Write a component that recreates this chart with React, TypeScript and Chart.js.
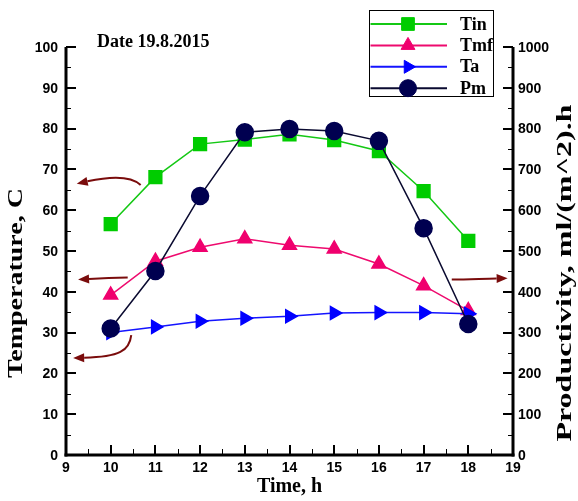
import React, { useEffect, useRef } from "react";
import { Chart, registerables } from "chart.js";
import { drawPoint } from "chart.js/helpers";

Chart.register(...registerables);

// Hour of day for each measurement
const hours = [10, 11, 12, 13, 14, 15, 16, 17, 18];
// Temperatures, C
const tin = [56.6, 68.1, 76.2, 77.3, 78.6, 77.2, 74.5, 64.7, 52.5];
const tmf = [39.2, 47.5, 50.9, 53.0, 51.4, 50.5, 46.8, 41.5, 35.4];
const ta = [30.0, 31.4, 32.8, 33.5, 34.0, 34.8, 34.9, 34.9, 34.6];
// Productivity, ml/(m^2).h
const pm = [310, 451, 635, 791, 799, 794, 770, 556, 321];

// Axis ticks
const xTicks = [9, 10, 11, 12, 13, 14, 15, 16, 17, 18, 19];
const tempTicks = [0, 10, 20, 30, 40, 50, 60, 70, 80, 90, 100];
const prodTicks = [0, 100, 200, 300, 400, 500, 600, 700, 800, 900, 1000];

const seriesNames = ["Tin", "Tmf", "Ta", "Pm"];
const dateLabel = "Date 19.8.2015";
const xTitle = "Time, h";
const yTitle = "Temperature, C";
const y1Title = "Productivity, ml/(m^2).h";

const SERIF = '"Liberation Serif", "Times New Roman", serif';
const SANS = '"Liberation Sans", Arial, sans-serif';
const ARROW_COLOR = "#7a0c0c";

// Hint arrows (time, temperature) pointing each curve group to its axis:
// start, two bezier control points, tip
type P = [number, number];
const arrowsToLeft: P[][] = [
  [[10.67, 66.2], [10.45, 68.4], [10.03, 68.4], [9.24, 66.5]],
  [[10.38, 43.5], [10.0, 43.4], [9.8, 43.3], [9.27, 43.0]],
  [[10.46, 29.4], [10.42, 25.6], [10.2, 24.0], [9.16, 23.8]],
];
const arrowsToRight: P[][] = [
  [[17.63, 43.0], [18.0, 43.0], [18.3, 43.2], [18.88, 43.3]],
];

const pts = (vals: number[]) => hours.map((h, i) => ({ x: h, y: vals[i] }));

function drawArrow(ctx: CanvasRenderingContext2D, p: P[]) {
  const [p0, c1, c2, tip] = p;
  const ang = Math.atan2(tip[1] - c2[1], tip[0] - c2[0]);
  const hl = 11;
  const hw = 4.5;
  const bx = tip[0] - hl * Math.cos(ang);
  const by = tip[1] - hl * Math.sin(ang);
  ctx.beginPath();
  ctx.moveTo(p0[0], p0[1]);
  ctx.bezierCurveTo(c1[0], c1[1], c2[0], c2[1], bx, by);
  ctx.stroke();
  ctx.beginPath();
  ctx.moveTo(tip[0], tip[1]);
  ctx.lineTo(bx + hw * Math.sin(ang), by - hw * Math.cos(ang));
  ctx.lineTo(bx - hw * Math.sin(ang), by + hw * Math.cos(ang));
  ctx.closePath();
  ctx.fill();
}

// Vertical axis title, read bottom to top, stretched along its baseline
function verticalTitle(ctx: CanvasRenderingContext2D, text: string, x: number, y: number, stretch: number) {
  ctx.save();
  ctx.translate(x, y);
  ctx.rotate(-Math.PI / 2);
  ctx.scale(stretch, 1);
  ctx.fillText(text, 0, 0);
  ctx.restore();
}

const framePlugin = {
  id: "frame",
  afterDraw(chart: any) {
    const ctx: CanvasRenderingContext2D = chart.ctx;
    const { left: L, right: R, top: T, bottom: B } = chart.chartArea;
    const xs = chart.scales.x;
    const ys = chart.scales.y;
    const y1 = chart.scales.y1;
    ctx.save();
    ctx.strokeStyle = "#000";
    ctx.fillStyle = "#000";
    ctx.lineCap = "butt";

    const seg = (ax: number, ay: number, bx: number, by: number, w: number) => {
      ctx.lineWidth = w;
      ctx.beginPath();
      ctx.moveTo(ax, ay);
      ctx.lineTo(bx, by);
      ctx.stroke();
    };

    // inward ticks, major and minor
    tempTicks.forEach((v, i) => {
      const y = Math.round(ys.getPixelForValue(v));
      seg(L, y, L + 10, y, 2);
      if (i < tempTicks.length - 1) {
        const ym = Math.round(ys.getPixelForValue((v + tempTicks[i + 1]) / 2)) + 0.5;
        seg(L, ym, L + 5, ym, 1);
      }
    });
    prodTicks.forEach((v, i) => {
      const y = Math.round(y1.getPixelForValue(v));
      seg(R, y, R - 10, y, 2);
      if (i < prodTicks.length - 1) {
        const ym = Math.round(y1.getPixelForValue((v + prodTicks[i + 1]) / 2)) + 0.5;
        seg(R, ym, R - 5, ym, 1);
      }
    });
    xTicks.forEach((v, i) => {
      const x = Math.round(xs.getPixelForValue(v));
      seg(x, B, x, B - 10, 2);
      if (i < xTicks.length - 1) {
        const xm = Math.round(xs.getPixelForValue((v + xTicks[i + 1]) / 2)) + 0.5;
        seg(xm, B, xm, B - 6, 1);
      }
    });

    // axis lines
    seg(L, T, L, B + 1.5, 3);
    seg(R, T, R, B + 1.5, 3);
    seg(L - 1.5, B, R + 1.5, B, 3);

    // tick labels
    ctx.font = `bold 14px ${SANS}`;
    ctx.textBaseline = "middle";
    ctx.textAlign = "right";
    tempTicks.forEach((v) => ctx.fillText(String(v), L - 8, ys.getPixelForValue(v) + 1));
    ctx.textAlign = "left";
    prodTicks.forEach((v) => ctx.fillText(String(v), R + 5, y1.getPixelForValue(v) + 1));
    ctx.textAlign = "center";
    xTicks.forEach((v) => ctx.fillText(String(v), xs.getPixelForValue(v), B + 13));

    // axis titles
    ctx.font = `bold 20px ${SERIF}`;
    ctx.textAlign = "center";
    ctx.textBaseline = "alphabetic";
    ctx.fillText(xTitle, (L + R) / 2, B + 37);
    verticalTitle(ctx, yTitle, 22, 283, 1.4);
    verticalTitle(ctx, y1Title, 571, 273, 1.6);

    // date caption
    ctx.font = `bold 18px ${SERIF}`;
    ctx.textAlign = "left";
    ctx.fillText(dateLabel, L + 31, T);

    // arrows
    ctx.strokeStyle = ARROW_COLOR;
    ctx.fillStyle = ARROW_COLOR;
    ctx.lineWidth = 2;
    const toPx = (p: P): P => [xs.getPixelForValue(p[0]), ys.getPixelForValue(p[1])];
    [...arrowsToLeft, ...arrowsToRight].forEach((a) => drawArrow(ctx, a.map(toPx)));

    // legend box
    const bx = 369.5, by = 10.5, bw = 124, bh = 86;
    ctx.fillStyle = "#fff";
    ctx.fillRect(bx, by, bw, bh);
    ctx.strokeStyle = "#000";
    ctx.lineWidth = 1;
    ctx.strokeRect(bx, by, bw, bh);
    chart.data.datasets.forEach((ds: any, i: number) => {
      const ry = 24 + i * 21.4;
      ctx.strokeStyle = ds.borderColor;
      ctx.lineWidth = 2;
      ctx.beginPath();
      ctx.moveTo(bx + 1, ry);
      ctx.lineTo(447, ry);
      ctx.stroke();
      ctx.fillStyle = ds.pointBackgroundColor;
      ctx.strokeStyle = ds.pointBorderColor;
      ctx.lineWidth = 1;
      drawPoint(ctx, {
        pointStyle: ds.pointStyle,
        radius: ds.pointRadius,
        rotation: ds.pointRotation || 0,
        borderWidth: 1,
      } as any, 408, ry);
      ctx.fillStyle = "#000";
      ctx.font = `bold 18px ${SERIF}`;
      ctx.textAlign = "left";
      ctx.textBaseline = "middle";
      ctx.fillText(ds.label, 460, ry + 1);
    });

    ctx.restore();
  },
};

export default function App() {
  const canvasRef = useRef<HTMLCanvasElement | null>(null);

  useEffect(() => {
    const canvas = canvasRef.current;
    if (!canvas) return;
    const chart = new Chart(canvas, {
      type: "line",
      data: {
        datasets: [
          {
            label: seriesNames[0],
            data: pts(tin),
            yAxisID: "y",
            borderColor: "#14c814",
            backgroundColor: "#00cc00",
            pointBackgroundColor: "#00cc00",
            pointBorderColor: "#00cc00",
            pointStyle: "rect",
            pointRadius: 9,
            borderWidth: 1.5,
            order: 3,
          },
          {
            label: seriesNames[1],
            data: pts(tmf),
            yAxisID: "y",
            borderColor: "#ee0a6e",
            backgroundColor: "#f0006e",
            pointBackgroundColor: "#f0006e",
            pointBorderColor: "#f0006e",
            pointStyle: "triangle",
            pointRadius: 8,
            borderWidth: 1.5,
            order: 2,
          },
          {
            label: seriesNames[2],
            data: pts(ta),
            yAxisID: "y",
            borderColor: "#1414ff",
            backgroundColor: "#0000ff",
            pointBackgroundColor: "#0000ff",
            pointBorderColor: "#0000ff",
            pointStyle: "triangle",
            pointRotation: 90,
            pointRadius: 7.5,
            borderWidth: 1.5,
            order: 1,
          },
          {
            label: seriesNames[3],
            data: pts(pm),
            yAxisID: "y1",
            borderColor: "#0a0a30",
            backgroundColor: "#000050",
            pointBackgroundColor: "#000050",
            pointBorderColor: "#000050",
            pointStyle: "circle",
            pointRadius: 8.5,
            borderWidth: 1.5,
            order: 0,
          },
        ] as any,
      },
      options: {
        animation: false,
        responsive: false,
        events: [],
        layout: { padding: { left: 66, right: 65, top: 47, bottom: 46 } },
        plugins: {
          legend: { display: false },
          title: { display: false },
          tooltip: { enabled: false },
        },
        elements: { line: { tension: 0 } },
        scales: {
          x: { type: "linear", min: 9, max: 19, display: false },
          y: { type: "linear", position: "left", min: 0, max: 100, display: false },
          y1: { type: "linear", position: "right", min: 0, max: 1000, display: false },
        },
      },
      plugins: [framePlugin],
    });
    return () => chart.destroy();
  }, []);

  return (
    <div style={{ position: "fixed", left: 0, top: 0, width: 578, height: 501, background: "#fff" }}>
      <canvas ref={canvasRef} width={578} height={501} style={{ display: "block" }} />
    </div>
  );
}
